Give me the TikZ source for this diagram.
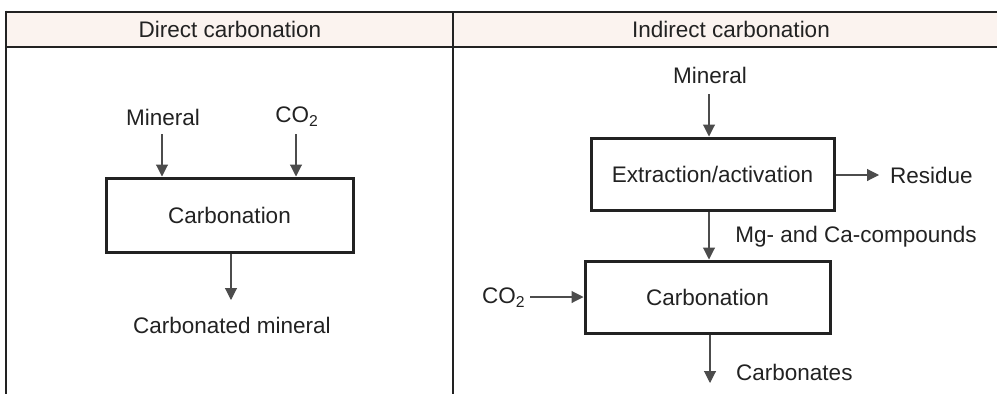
\documentclass[tikz,border=0pt]{standalone}
\usepackage{fontspec}
\setmainfont{Liberation Sans}
\usetikzlibrary{arrows.meta}
\definecolor{hdrfill}{HTML}{FBF3EF}
\definecolor{ink}{HTML}{222222}
\tikzset{
  procbox/.style={draw=ink, line width=3pt, fill=white, font=\fontsize{22.5}{26}\selectfont, text=ink, inner sep=0pt},
  lbl/.style={font=\fontsize{22.5}{26}\selectfont, text=ink, inner sep=0pt},
  flow/.style={draw=black!70, line width=1.1pt, -{Triangle[width=12pt,length=12pt]}},
  frame/.style={draw=ink, line width=2.8pt}
}
\begin{document}
\begin{tikzpicture}[x=1pt,y=-1pt]
\useasboundingbox (0,0) rectangle (997,394);
% table header
\fill[hdrfill] (6,12) rectangle (997,47);
\draw[frame] (6,12) -- (997,12);
\draw[frame] (6,47) -- (997,47);
\draw[frame] (6,10.6) -- (6,394);
\draw[frame] (453,12) -- (453,394);
\node[lbl] (h1) at (230,29) {Direct carbonation};
\node[lbl] (h2) at (731,29) {Indirect carbonation};

% direct carbonation
\node[procbox, minimum width=247pt, minimum height=74pt] (cb1) at (229.5,215) {Carbonation};
\node[lbl] (min1) at (163,117) {Mineral};
\node[lbl] (co1) at (297,117) {CO\textsubscript{2}};
\coordinate (s1) at (162,134);
\coordinate (s2) at (296,134);
\draw[flow] (s1) -- (s1 |- cb1.north);
\draw[flow] (s2) -- (s2 |- cb1.north);
\coordinate (e1) at (231,300);
\draw[flow] (e1 |- cb1.south) -- (e1);
\node[lbl] (cm) at (232,325) {Carbonated mineral};

% indirect carbonation
\node[procbox, minimum width=243pt, minimum height=72pt] (ex) at (712.5,174) {Extraction/activation};
\node[procbox, minimum width=245pt, minimum height=72pt] (cb2) at (707.5,297) {Carbonation};
\node[lbl] (min2) at (710,75) {Mineral};
\coordinate (s3) at (709,94);
\draw[flow] (s3) -- (s3 |- ex.north);
\coordinate (r1) at (879,175);
\draw[flow] (ex.east |- r1) -- (r1);
\node[lbl, anchor=west] (res) at (890,175) {Residue};
\coordinate (m1) at (709,200);
\draw[flow] (m1 |- ex.south) -- (m1 |- cb2.north);
\node[lbl, anchor=east] (mg) at (977,237) {Mg- and Ca-compounds};
\node[lbl, anchor=west] (co2) at (482,298) {CO\textsubscript{2}};
\coordinate (s4) at (530,297);
\draw[flow] (s4) -- (cb2.west |- s4);
\coordinate (e2) at (710,383);
\draw[flow] (e2 |- cb2.south) -- (e2);
\node[lbl, anchor=west] (carb) at (736,372) {Carbonates};
\end{tikzpicture}
\end{document}
